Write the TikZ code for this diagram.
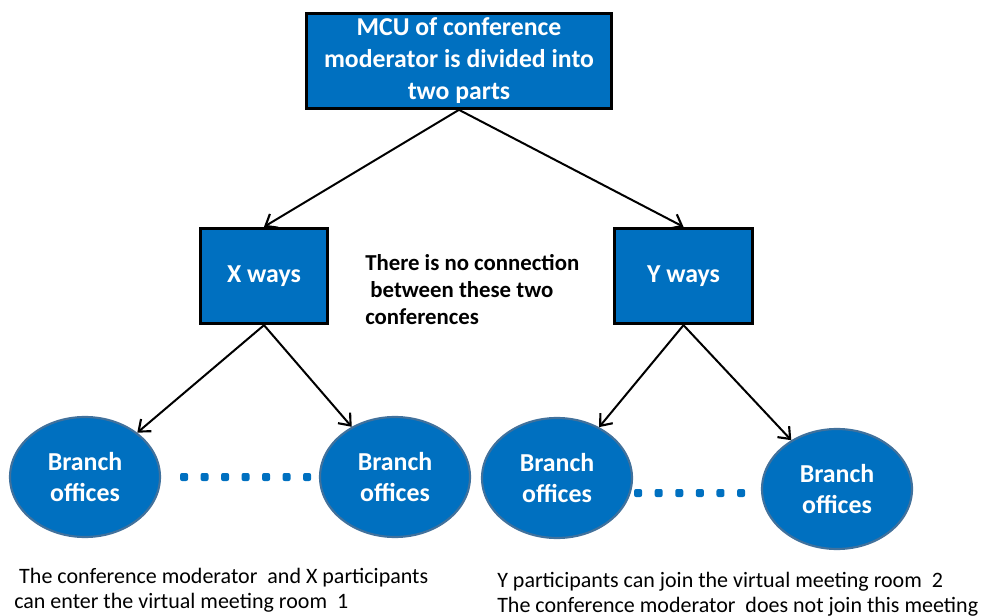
\documentclass[tikz,border=0pt]{standalone}
\usepackage{fontspec}
\setmainfont{Carlito}
\usetikzlibrary{calc,arrows.meta,shapes.geometric}
\definecolor{wayBlue}{RGB}{0,112,192}
\definecolor{rimBlue}{RGB}{65,113,156}
\newcommand{\headfont}{\fontsize{19.3}{24}\selectfont\bfseries}
\newcommand{\wayfont}{\fontsize{19.4}{23.25}\selectfont\bfseries}
\newcommand{\gapfont}{\fontsize{17.1}{20.25}\selectfont\bfseries}
\newcommand{\notefont}{\fontsize{16.5}{18.5}\selectfont}
\tikzset{
  waybox/.style={draw=black,fill=wayBlue,line width=2.25pt,text=white,align=center,inner sep=0pt},
  branch/.style={ellipse,draw=rimBlue,fill=wayBlue,line width=1.6pt,text=white,align=center,
    minimum width=112.5pt,minimum height=90pt,inner sep=0pt,font=\wayfont},
  link/.style={-{Straight Barb[length=7.5pt,width=12pt,line width=1.6pt]},line width=1.5pt},
  dotmark/.style={fill=wayBlue,rounded corners=1.5pt},
  note/.style={inner sep=0pt,align=left}
}

\begin{document}
\begin{tikzpicture}[x=0.75pt,y=-0.75pt]
\useasboundingbox (0,0) rectangle (981,616);
\node[waybox,minimum width=229pt,minimum height=71pt,font=\headfont] (mcu) at (459,61) {MCU of conference\\moderator is divided into\\two parts};
\node[waybox,minimum width=95.5pt,minimum height=71.5pt,font=\wayfont] (xw) at (264,276) {X ways};
\node[waybox,minimum width=104pt,minimum height=71.5pt,font=\wayfont] (yw) at (683.5,276) {Y ways};
\node[branch] (b1) at (85,477) {Branch\\offices};
\node[branch] (b2) at (395,477) {Branch\\offices};
\node[branch] (b3) at (557,478) {Branch\\offices};
\node[branch] (b4) at (837,489) {Branch\\offices};
\node[note,anchor=north west,font=\gapfont] (gap) at (365,254.5) {There is no connection\\\ between these two\\conferences};
\node[note,anchor=north west,font=\notefont] (lnote) at (14,568) {\ The conference moderator~~and X participants\\can enter the virtual meeting room~~1};
\node[note,anchor=north west,font=\notefont] (rnote) at (497,572) {Y participants can join the virtual meeting room~~2\\The conference moderator~~does not join this meeting};
\draw[link] (mcu.south) -- (xw.north);
\draw[link] (mcu.south) -- (yw.north);
\draw[link] (xw.south) -- (b1);
\draw[link] (xw.south) -- (b2);
\draw[link] (yw.south) -- (b3);
\draw[link] (yw.south) -- (b4);
\foreach \k in {0,...,6}
  \fill[dotmark] ($(b1.east)+(19+20.5*\k,-4)$) rectangle +(8,8);
\foreach \k in {0,...,5}
  \fill[dotmark] ($(b3.east)+(1+20.6*\k,11)$) rectangle +(8,8);
\end{tikzpicture}
\end{document}
